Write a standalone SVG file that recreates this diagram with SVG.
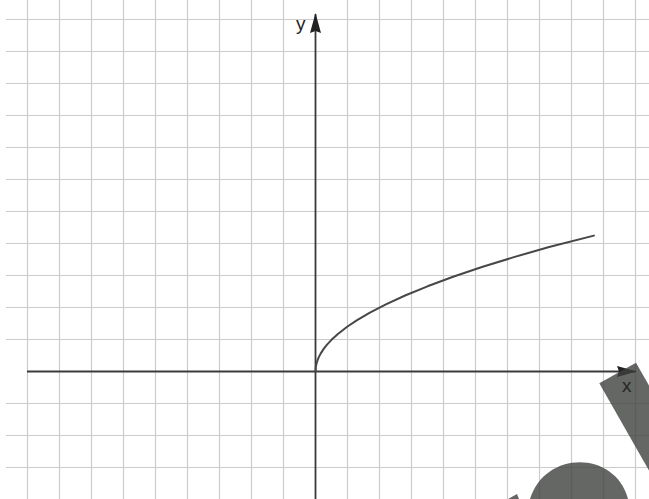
<svg xmlns="http://www.w3.org/2000/svg" width="649" height="499" viewBox="0 0 649 499">
  <style>
    .grid line { stroke: #cbcbcb; stroke-width: 1.2; }
    .axis { stroke: #3a3a3a; stroke-width: 1.8; fill: none; }
    .curve { stroke: #474747; stroke-width: 2; fill: none; stroke-linejoin: round; stroke-linecap: round; }
    .lbl { font-family: "Liberation Sans", Arial, sans-serif; font-size: 19px; fill: #262626; }
    .blob { fill: #3f413f; fill-opacity: 0.8; }
  </style>
  <defs>
    <marker id="arr" viewBox="0 0 20 11" refX="19" refY="5.5" markerWidth="20" markerHeight="11" markerUnits="userSpaceOnUse" orient="auto">
      <path d="M0,0 L20,5.5 L0,11 L2,5.5 Z" fill="#222222"/>
    </marker>
  </defs>
  <rect width="649" height="499" fill="#ffffff"/>
  <g class="grid" id="grid">
    <line x1="27.5" y1="0" x2="27.5" y2="499"/>
    <line x1="59.5" y1="0" x2="59.5" y2="499"/>
    <line x1="91.5" y1="0" x2="91.5" y2="499"/>
    <line x1="123.5" y1="0" x2="123.5" y2="499"/>
    <line x1="155.5" y1="0" x2="155.5" y2="499"/>
    <line x1="187.5" y1="0" x2="187.5" y2="499"/>
    <line x1="219.5" y1="0" x2="219.5" y2="499"/>
    <line x1="251.5" y1="0" x2="251.5" y2="499"/>
    <line x1="283.5" y1="0" x2="283.5" y2="499"/>
    <line x1="347.5" y1="0" x2="347.5" y2="499"/>
    <line x1="379.5" y1="0" x2="379.5" y2="499"/>
    <line x1="411.5" y1="0" x2="411.5" y2="499"/>
    <line x1="443.5" y1="0" x2="443.5" y2="499"/>
    <line x1="475.5" y1="0" x2="475.5" y2="499"/>
    <line x1="507.5" y1="0" x2="507.5" y2="499"/>
    <line x1="539.5" y1="0" x2="539.5" y2="499"/>
    <line x1="571.5" y1="0" x2="571.5" y2="499"/>
    <line x1="603.5" y1="0" x2="603.5" y2="499"/>
    <line x1="635.5" y1="0" x2="635.5" y2="499"/>
    <line x1="6" y1="19.5" x2="649" y2="19.5"/>
    <line x1="6" y1="51.5" x2="649" y2="51.5"/>
    <line x1="6" y1="83.5" x2="649" y2="83.5"/>
    <line x1="6" y1="115.5" x2="649" y2="115.5"/>
    <line x1="6" y1="147.5" x2="649" y2="147.5"/>
    <line x1="6" y1="179.5" x2="649" y2="179.5"/>
    <line x1="6" y1="211.5" x2="649" y2="211.5"/>
    <line x1="6" y1="243.5" x2="649" y2="243.5"/>
    <line x1="6" y1="275.5" x2="649" y2="275.5"/>
    <line x1="6" y1="307.5" x2="649" y2="307.5"/>
    <line x1="6" y1="339.5" x2="649" y2="339.5"/>
    <line x1="6" y1="403.5" x2="649" y2="403.5"/>
    <line x1="6" y1="435.5" x2="649" y2="435.5"/>
    <line x1="6" y1="467.5" x2="649" y2="467.5"/>
  </g>
  <g id="axes">
    <line class="axis" x1="27" y1="371.5" x2="636" y2="371.5" marker-end="url(#arr)"/>
    <line class="axis" x1="315.5" y1="499" x2="315.5" y2="14" marker-end="url(#arr)"/>
    <text class="lbl" x="296" y="30">y</text>
  </g>
  <g id="curve">
    <polyline class="curve" points="315.5,371.5 315.82,367.06 316.46,363.79 317.42,360.59 318.7,357.41 320.62,353.65 323.5,349.16 327.02,344.65 331.5,339.81 337.9,333.94 347.5,326.5 357.1,320.1 369.9,312.59 385.9,304.31 405.1,295.51 427.5,286.3 453.1,276.8 481.9,267.07 513.9,257.14 549.1,247.06 593.9,235.6"/>
  </g>
  <g id="overlay">
    <polygon class="blob" points="599.3,383.3 636,362.7 785,623 748,644"/>
    <path class="blob" d="M530,499 C545,450 615,450 628,499 Z"/>
    <polygon class="blob" points="508,499 517,494 519,499"/>
    <text class="lbl" x="622" y="392">x</text>
  </g>
</svg>
